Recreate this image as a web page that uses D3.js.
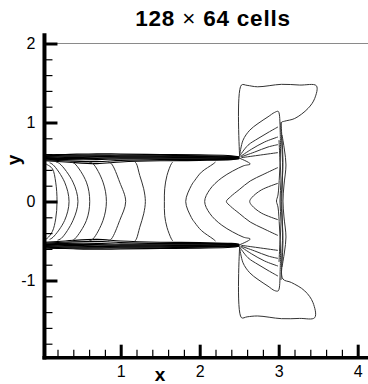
<!DOCTYPE html>
<html><head><meta charset="utf-8">
<script src="https://cdn.jsdelivr.net/npm/d3@7"></script>
<style>
html,body{margin:0;padding:0;background:#fff;}
svg{display:block;font-family:"Liberation Sans",Arial,Helvetica,sans-serif;}
</style></head>
<body>
<svg id="chart" width="368" height="384"></svg>
<script>
// ---- tick data ----
const xMajorTicks = [1, 2, 3, 4];
const xMinorTicks = [0.2,0.4,0.6,0.8,1.2,1.4,1.6,1.8,2.2,2.4,2.6,2.8,3.2,3.4,3.6,3.8,4.2];
const yMajorTicks = [-1, 0, 1, 2];
const yMinorTicks = [-1.8,-1.6,-1.4,-1.2,-0.8,-0.6,-0.4,-0.2,0.2,0.4,0.6,0.8,1.2,1.4,1.6,1.8];
const titleMain = "128 ", titleTimes = "\u00d7", titleTail = " 64 cells";
const xLabel = "x", yLabel = "y";
const xView = [0.035, 4.3], yView = [-1.977, 2.13];
const boundaryY = 2;

// ---- contour lines (data units) ----
// jet-core contours (top to bottom)
const coreLines = [
  [[0.04,0.48],[0.07,0.466],[0.135,0.415],[0.177,0.245],[0.194,0.0],[0.177,-0.22],[0.135,-0.38],[0.07,-0.466],[0.04,-0.48]],
  [[0.10,0.49],[0.143,0.466],[0.29,0.245],[0.346,0.0],[0.29,-0.24],[0.143,-0.453],[0.10,-0.48]],
  [[0.18,0.50],[0.228,0.479],[0.396,0.245],[0.459,0.0],[0.396,-0.24],[0.249,-0.466],[0.20,-0.49]],
  [[0.37,0.50],[0.418,0.479],[0.566,0.245],[0.608,0.0],[0.566,-0.24],[0.418,-0.474],[0.37,-0.50]],
  [[0.60,0.50],[0.649,0.479],[0.776,0.245],[0.819,0.0],[0.776,-0.24],[0.649,-0.474],[0.60,-0.50]],
  [[0.84,0.50],[0.882,0.479],[0.987,0.245],[1.063,0.0],[0.987,-0.24],[0.882,-0.474],[0.84,-0.50]],
  [[1.18,0.50],[1.199,0.479],[1.241,0.33],[1.291,0.161],[1.312,0.0],[1.291,-0.156],[1.241,-0.327],[1.199,-0.474],[1.18,-0.50]],
  [[1.66,0.50],[1.642,0.479],[1.586,0.33],[1.557,0.161],[1.553,0.0],[1.557,-0.178],[1.586,-0.327],[1.642,-0.474],[1.66,-0.50]]
];
// bow-shaped contours near the nozzle exit
const exitLines = [
  [[2.20,0.50],[2.17,0.475],[2.022,0.372],[1.94,0.27],[1.895,0.203],[1.823,0.0],[1.895,-0.203],[1.94,-0.27],[2.022,-0.368],[2.17,-0.475],[2.20,-0.50]],
  [[2.50,0.55],[2.64,0.475],[2.55,0.45],[2.28,0.30],[2.127,0.15],[2.063,0.0],[2.127,-0.15],[2.28,-0.30],[2.55,-0.45],[2.64,-0.475],[2.50,-0.55]],
  [[2.99,0.43],[2.80,0.34],[2.64,0.26],[2.50,0.15],[2.39,0.06],[2.338,0.0],[2.39,-0.06],[2.50,-0.15],[2.64,-0.26],[2.80,-0.34],[2.99,-0.43]],
  [[2.99,0.23],[2.78,0.146],[2.66,0.05],[2.633,0.0],[2.66,-0.05],[2.78,-0.146],[2.99,-0.23]]
];
// shear-layer contours along the jet edges
const bandX = [0.035, 0.3, 0.7, 1.0, 1.5, 2.0, 2.4, 2.5];
const bandUpper = [
  [0.59,0.595,0.605,0.60,0.595,0.59,0.58,0.565],
  [0.58,0.585,0.59,0.585,0.585,0.58,0.57,0.558],
  [0.57,0.575,0.58,0.575,0.575,0.57,0.565,0.555],
  [0.562,0.565,0.57,0.567,0.567,0.562,0.558,0.552],
  [0.555,0.555,0.56,0.56,0.56,0.555,0.55,0.55],
  [0.545,0.545,0.545,0.55,0.55,0.55,0.545,0.548],
  [0.535,0.53,0.53,0.54,0.54,0.54,0.54,0.546],
  [0.525,0.515,0.505,0.52,0.53,0.53,0.535,0.544],
  [0.515,0.50,0.48,0.50,0.515,0.52,0.53,0.542]
];
const bandLower = [
  [-0.59,-0.595,-0.605,-0.60,-0.595,-0.59,-0.58,-0.565],
  [-0.58,-0.585,-0.59,-0.585,-0.585,-0.58,-0.57,-0.558],
  [-0.57,-0.575,-0.58,-0.575,-0.575,-0.57,-0.565,-0.555],
  [-0.562,-0.565,-0.57,-0.567,-0.567,-0.562,-0.558,-0.552],
  [-0.555,-0.555,-0.56,-0.56,-0.56,-0.555,-0.55,-0.55],
  [-0.545,-0.545,-0.545,-0.55,-0.55,-0.55,-0.545,-0.548],
  [-0.535,-0.53,-0.53,-0.54,-0.54,-0.54,-0.54,-0.546],
  [-0.525,-0.515,-0.505,-0.52,-0.53,-0.53,-0.535,-0.544],
  [-0.515,-0.50,-0.48,-0.50,-0.515,-0.52,-0.53,-0.542]
];
// expansion-fan contours from the nozzle lips
const fanLines = [
  [[2.506,0.585],[2.548,0.775],[2.633,0.902],[2.738,0.987],[2.865,1.072],[2.949,1.128],[2.995,1.14],[3.016,0.968]],
  [[2.506,0.576],[2.611,0.712],[2.738,0.797],[2.865,0.873],[2.991,0.944]],
  [[2.519,0.572],[2.654,0.661],[2.823,0.754],[2.991,0.817]],
  [[2.519,0.563],[2.696,0.626],[2.865,0.69],[2.991,0.72]],
  [[2.528,0.555],[2.738,0.584],[2.991,0.619]],
  [[2.506,-0.585],[2.548,-0.775],[2.633,-0.902],[2.738,-0.987],[2.865,-1.072],[2.949,-1.128],[2.995,-1.13],[3.016,-0.956]],
  [[2.506,-0.576],[2.611,-0.712],[2.738,-0.797],[2.865,-0.873],[2.991,-0.944]],
  [[2.519,-0.572],[2.654,-0.661],[2.823,-0.754],[2.991,-0.817]],
  [[2.519,-0.563],[2.696,-0.626],[2.865,-0.69],[2.991,-0.72]],
  [[2.528,-0.555],[2.738,-0.584],[2.991,-0.619]]
];
// Mach-disk contours
const shockLines = [
  [[3.016,0.968],[3.023,0.652],[3.01,0.335],[2.991,0.082],[2.972,0.006],[2.991,-0.07],[3.01,-0.323],[3.023,-0.639],[3.016,-0.956]],
  [[3.029,1.006],[3.042,0.778],[3.054,0.525],[3.042,0.209],[3.029,0.006],[3.042,-0.196],[3.054,-0.513],[3.042,-0.766],[3.029,-0.994]],
  [[3.042,0.842],[3.073,0.652],[3.092,0.462],[3.067,0.209],[3.054,0.006],[3.067,-0.196],[3.092,-0.449],[3.073,-0.639],[3.042,-0.829]],
  [[3.004,0.778],[3.016,0.525],[3.029,0.272],[3.016,0.006],[3.029,-0.259],[3.016,-0.513],[3.004,-0.766]]
];
// outermost contour around the jet exit
const outerLine = [[2.506,0.563],[2.528,1.474],[2.60,1.47],[2.734,1.452],[3.034,1.483],[3.266,1.474],[3.477,1.465],
  [3.456,1.305],[3.371,1.178],[3.203,1.051],[3.076,1.017],[3.034,1.0],[3.038,0.775],[3.05,0.394],[3.038,0.0],
  [3.05,-0.394],[3.038,-0.775],[3.054,-0.982],[3.16,-1.025],[3.329,-1.131],[3.434,-1.28],[3.456,-1.47],
  [3.266,-1.48],[3.034,-1.483],[2.734,-1.449],[2.60,-1.46],[2.528,-1.47],[2.506,-0.56]];

// ---- drawing ----
const svg = d3.select("#chart");
const x = d3.scaleLinear().domain([0, 4]).range([41.7, 357.7]);
const y = d3.scaleLinear().domain([-1, 2]).range([280.5, 43.5]);

svg.append("defs").append("clipPath").attr("id","plotclip")
  .append("rect").attr("x", x(xView[0])).attr("y", y(yView[1]))
  .attr("width", x(xView[1]) - x(xView[0])).attr("height", y(yView[0]) - y(yView[1]));

const plot = svg.append("g").attr("clip-path","url(#plotclip)");
const line = d3.line().x(d => x(d[0])).y(d => y(d[1])).curve(d3.curveCatmullRom.alpha(0.5));

// boundary line at y = 2
plot.append("line").attr("x1", x(xView[0])).attr("x2", x(xView[1]))
  .attr("y1", y(boundaryY)).attr("y2", y(boundaryY))
  .attr("stroke","#8a8a8a").attr("stroke-width",1);

function drawSet(set, color, width){
  plot.append("g").selectAll("path").data(set).join("path")
    .attr("d", line).attr("fill","none").attr("stroke",color).attr("stroke-width",width);
}
const bandPaths = bandUpper.concat(bandLower).map(ys => ys.map((v,i)=>[bandX[i], v]));
drawSet(bandPaths, "#000", 1.1);
drawSet(coreLines, "#333", 1);
drawSet(exitLines, "#333", 1);
drawSet(fanLines, "#333", 1);
drawSet(shockLines, "#333", 1);
drawSet([outerLine], "#333", 1);

// axes
const axG = svg.append("g");
const bottomY = y(yView[0]), leftX = x(xView[0]);
const fmt = d => String(d);
const xMajor = d3.axisBottom(x).tickValues(xMajorTicks).tickSize(-13).tickPadding(8).tickFormat(fmt);
const xMinor = d3.axisBottom(x).tickValues(xMinorTicks).tickSize(-8).tickFormat("");
const yMajor = d3.axisLeft(y).tickValues(yMajorTicks).tickSize(-13).tickPadding(9).tickFormat(fmt);
const yMinor = d3.axisLeft(y).tickValues(yMinorTicks).tickSize(-8).tickFormat("");

function styleAxis(g, w){
  g.select(".domain").remove();
  g.selectAll(".tick line").attr("stroke","#000").attr("stroke-width",w);
  g.selectAll(".tick text").attr("fill","#000").attr("font-size",16)
    .attr("font-family","'Liberation Sans',Arial,Helvetica,sans-serif");
}
axG.append("g").attr("transform",`translate(0,${bottomY})`).call(xMinor).call(g=>styleAxis(g,1.2));
axG.append("g").attr("transform",`translate(0,${bottomY})`).call(xMajor).call(g=>styleAxis(g,3));
axG.append("g").attr("transform",`translate(${leftX},0)`).call(yMinor).call(g=>styleAxis(g,1.2));
axG.append("g").attr("transform",`translate(${leftX},0)`).call(yMajor).call(g=>styleAxis(g,3));
// axis lines
axG.append("line").attr("x1",leftX).attr("x2",leftX).attr("y1",y(yView[1])).attr("y2",bottomY+1.8)
  .attr("stroke","#000").attr("stroke-width",4);
axG.append("line").attr("x1",leftX-2).attr("x2",x(xView[1])).attr("y1",bottomY).attr("y2",bottomY)
  .attr("stroke","#000").attr("stroke-width",3.6);

// labels
svg.append("text").attr("x",160).attr("y",381).attr("text-anchor","middle")
  .attr("font-size",19).attr("font-weight","bold").text(xLabel);
svg.append("text").attr("transform","translate(20,160) rotate(-90)").attr("text-anchor","middle")
  .attr("font-size",19).attr("font-weight","bold").text(yLabel);
const t = svg.append("text").attr("x",213).attr("y",26).attr("text-anchor","middle")
  .attr("font-size",22.5).attr("font-weight","bold").attr("letter-spacing",0.8);
t.append("tspan").text(titleMain);
t.append("tspan").attr("font-weight","normal").text(titleTimes);
t.append("tspan").text(titleTail);
</script>
</body></html>
